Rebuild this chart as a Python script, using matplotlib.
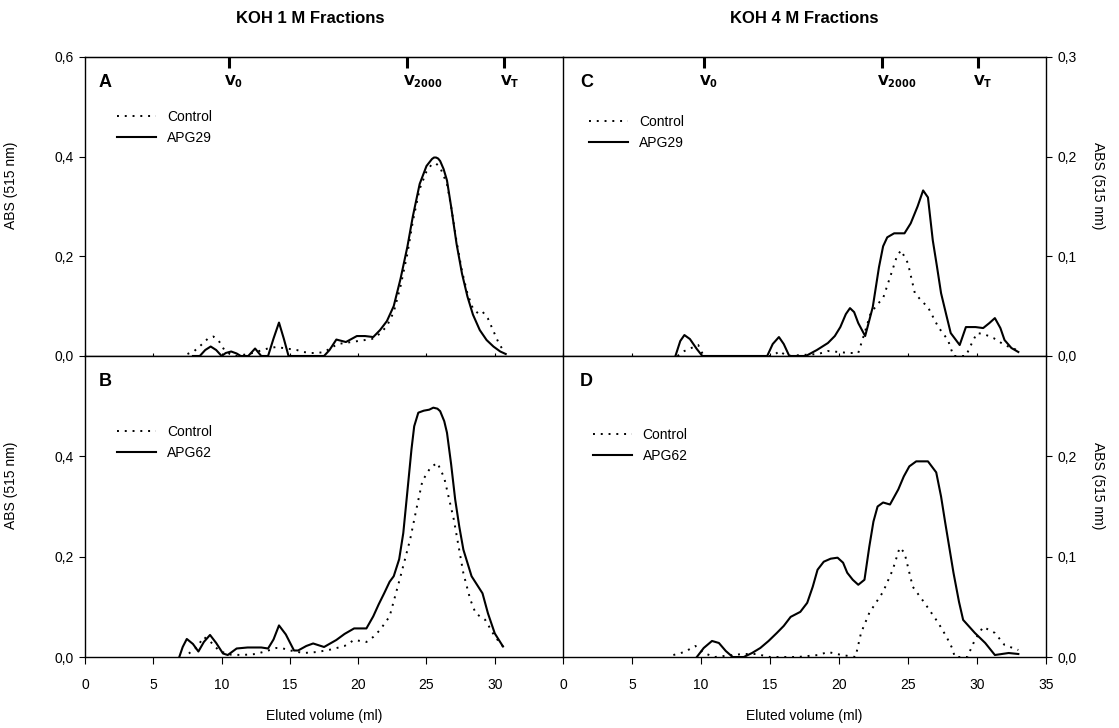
import numpy as np
import matplotlib
matplotlib.use("Agg")
import matplotlib.pyplot as plt
from matplotlib.ticker import FuncFormatter
from matplotlib.transforms import blended_transform_factory

plt.rcParams['font.family'] = ['Liberation Sans', 'DejaVu Sans']

# Panel A - KOH 1 M, APG29
A_apg_x = [7.9, 8.4, 8.8, 9.2, 9.6, 10.0, 10.3, 10.7, 11.1, 11.4, 11.95, 12.45, 12.9, 13.4, 13.8,
           14.2, 14.55, 14.9, 17.5, 17.9, 18.4, 19.1, 19.5, 19.9, 20.5, 21.1, 21.6, 22.1, 22.6, 23.1,
           23.6, 24.0, 24.5, 25.0, 25.4, 25.55, 25.7, 25.85, 26.0, 26.25, 26.5, 26.8, 27.2, 27.6, 28.0,
           28.4, 28.9, 29.4, 29.9, 30.4, 30.8]
A_apg_y = [0.0, 0.0, 0.012, 0.019, 0.012, 0.0, 0.006, 0.009, 0.005, 0.0, 0.0, 0.015, 0.0, 0.0, 0.035,
           0.067, 0.035, 0.0, 0.0, 0.012, 0.033, 0.028, 0.034, 0.040, 0.040, 0.038, 0.052, 0.070, 0.100, 0.155,
           0.219, 0.280, 0.345, 0.381, 0.395, 0.398, 0.398, 0.396, 0.391, 0.375, 0.352, 0.300, 0.225, 0.165,
           0.119, 0.083, 0.052, 0.032, 0.019, 0.009, 0.004]
A_ctl_x = [7.5, 8.0, 8.5, 9.0, 9.4, 9.8, 10.2, 10.6, 11.0, 12.0, 12.5, 13.0, 13.5, 14.0, 14.5, 15.0,
           15.5, 16.0, 16.5, 17.0, 17.5, 18.0, 18.5, 19.0, 19.5, 20.0, 20.5, 21.0, 21.6, 22.1, 22.6,
           23.1, 23.6, 24.0, 24.5, 25.0, 25.4, 25.7, 26.0, 26.5, 26.8, 27.2, 27.6, 28.0, 28.4, 28.8,
           29.1, 29.5, 29.9, 30.3, 30.7]
A_ctl_y = [0.004, 0.010, 0.022, 0.035, 0.039, 0.030, 0.012, 0.004, 0.0, 0.004, 0.008, 0.012, 0.016, 0.018,
           0.016, 0.014, 0.012, 0.008, 0.006, 0.006, 0.008, 0.016, 0.024, 0.026, 0.028, 0.030, 0.032, 0.034,
           0.045, 0.060, 0.088, 0.140, 0.205, 0.270, 0.335, 0.370, 0.385, 0.386, 0.378, 0.345, 0.300, 0.230,
           0.170, 0.125, 0.095, 0.085, 0.089, 0.075, 0.050, 0.025, 0.008]

# Panel B - KOH 1 M, APG62
B_apg_x = [6.9, 7.15, 7.45, 7.9, 8.3, 8.7, 9.15, 9.6, 10.1, 10.45, 11.1, 11.9, 12.9, 13.4, 13.8, 14.2,
           14.7, 15.3, 15.6, 16.2, 16.7, 17.5, 18.4, 19.0, 19.7, 20.6, 21.1, 21.5, 21.9, 22.3, 22.6, 23.0,
           23.3, 23.6, 23.9, 24.1, 24.4, 24.8, 25.2, 25.5, 25.8, 26.0, 26.3, 26.5, 26.8, 27.1, 27.4, 27.7,
           28.3, 29.1, 29.5, 30.0, 30.6]
B_apg_y = [0.0, 0.020, 0.036, 0.026, 0.011, 0.030, 0.044, 0.028, 0.007, 0.004, 0.017, 0.019, 0.019, 0.017,
           0.035, 0.063, 0.045, 0.013, 0.013, 0.022, 0.027, 0.020, 0.034, 0.046, 0.057, 0.057, 0.081, 0.105,
           0.127, 0.150, 0.161, 0.195, 0.247, 0.330, 0.414, 0.460, 0.487, 0.491, 0.493, 0.497, 0.495, 0.490,
           0.470, 0.447, 0.385, 0.314, 0.260, 0.214, 0.161, 0.127, 0.087, 0.047, 0.021]
B_ctl_x = [7.6, 8.2, 8.7, 9.2, 9.8, 10.5, 11.5, 12.5, 13.3, 14.0, 14.5, 15.2, 16.0, 17.0, 18.0, 19.0,
           19.7, 20.6, 21.1, 21.6, 22.3, 23.1, 23.8, 24.3, 24.7, 25.3, 25.8, 26.3, 27.0, 27.7, 28.2, 28.6,
           29.3, 30.0, 30.6]
B_ctl_y = [0.007, 0.020, 0.040, 0.030, 0.013, 0.005, 0.004, 0.006, 0.012, 0.018, 0.017, 0.012, 0.008,
           0.010, 0.015, 0.022, 0.034, 0.030, 0.040, 0.054, 0.081, 0.161, 0.234, 0.300, 0.351, 0.378, 0.387,
           0.357, 0.274, 0.167, 0.115, 0.087, 0.074, 0.041, 0.021]

# Panel C - KOH 4 M, APG29
C_apg_x = [8.15, 8.5, 8.8, 9.2, 9.7, 10.1, 14.8, 15.2, 15.65, 16.0, 16.4, 17.6, 18.4, 19.2, 19.7, 20.1,
           20.5, 20.8, 21.1, 21.4, 21.9, 22.45, 22.9, 23.2, 23.5, 24.0, 24.75, 25.2, 25.7, 26.1, 26.45,
           26.8, 27.1, 27.4, 27.8, 28.1, 28.75, 29.2, 29.9, 30.45, 30.9, 31.3, 31.7, 32.0, 32.5, 33.0]
C_apg_y = [0.0, 0.015, 0.021, 0.017, 0.007, 0.0, 0.0, 0.012, 0.019, 0.012, 0.0, 0.0, 0.006, 0.013, 0.020,
           0.029, 0.042, 0.048, 0.044, 0.033, 0.020, 0.049, 0.089, 0.110, 0.119, 0.123, 0.123, 0.133, 0.150,
           0.166, 0.159, 0.116, 0.090, 0.063, 0.040, 0.023, 0.011, 0.029, 0.029, 0.028, 0.033, 0.038, 0.028,
           0.016, 0.008, 0.004]
C_ctl_x = [8.3, 8.8, 9.3, 9.8, 10.2, 15.2, 15.7, 16.2, 18.5, 19.2, 20.0, 20.7, 21.4, 21.9, 22.3, 22.8,
           23.2, 23.8, 24.2, 24.5, 25.0, 25.5, 26.0, 26.45, 27.2, 27.9, 28.3, 29.2, 29.6, 30.0, 30.5, 31.2,
           32.0, 32.9]
C_ctl_y = [0.0, 0.005, 0.008, 0.011, 0.0, 0.0, 0.005, 0.0, 0.002, 0.005, 0.004, 0.003, 0.003, 0.025,
           0.043, 0.052, 0.058, 0.083, 0.100, 0.106, 0.093, 0.063, 0.055, 0.049, 0.029, 0.016, 0.0, 0.0,
           0.012, 0.023, 0.022, 0.018, 0.011, 0.006]

# Panel D - KOH 4 M, APG62
D_apg_x = [9.7, 10.2, 10.8, 11.3, 11.8, 12.3, 13.1, 13.7, 14.3, 14.9, 15.5, 16.0, 16.5, 17.2, 17.7,
           18.1, 18.45, 18.9, 19.4, 19.9, 20.3, 20.6, 21.0, 21.4, 21.85, 22.2, 22.5, 22.8, 23.2, 23.7,
           24.3, 24.7, 25.1, 25.6, 26.0, 26.45, 27.05, 27.4, 27.7, 28.3, 28.7, 29.0, 29.85, 30.6, 31.3,
           31.8, 32.3, 33.0]
D_apg_y = [0.0, 0.009, 0.016, 0.014, 0.006, 0.0, 0.0, 0.004, 0.009, 0.016, 0.024, 0.031, 0.040, 0.045,
           0.054, 0.070, 0.087, 0.095, 0.098, 0.099, 0.094, 0.084, 0.077, 0.072, 0.077, 0.110, 0.135, 0.150,
           0.154, 0.152, 0.167, 0.180, 0.190, 0.195, 0.195, 0.195, 0.184, 0.160, 0.134, 0.084, 0.055, 0.037,
           0.024, 0.014, 0.002, 0.003, 0.004, 0.003]
D_ctl_x = [8.0, 8.8, 9.6, 10.2, 11.0, 13.0, 14.0, 15.0, 17.0, 18.5, 19.2, 20.2, 21.2, 21.6, 22.2, 23.2,
           23.9, 24.4, 24.75, 25.35, 26.2, 27.2, 27.8, 28.2, 28.4, 29.3, 29.85, 30.45, 31.3, 32.0, 33.0]
D_ctl_y = [0.002, 0.005, 0.011, 0.004, 0.0, 0.003, 0.003, 0.0, 0.0, 0.002, 0.005, 0.002, 0.0, 0.024,
           0.044, 0.065, 0.087, 0.109, 0.104, 0.070, 0.054, 0.034, 0.020, 0.009, 0.0, 0.0, 0.017, 0.030,
           0.024, 0.012, 0.007]

# column markers (V0, V2000, VT)
marker_labels = [r'$\mathbf{V_0}$', r'$\mathbf{V_{2000}}$', r'$\mathbf{V_T}$']
markers_1M = [10.55, 23.6, 30.7]
markers_4M = [10.2, 23.1, 30.1]

comma = FuncFormatter(lambda v, pos: f"{v:.1f}".replace('.', ','))

fig = plt.figure(figsize=(11.19, 7.28), dpi=100)
axA = fig.add_axes([0.0760, 0.511, 0.4272, 0.411])
axB = fig.add_axes([0.0760, 0.0975, 0.4272, 0.4135])
axC = fig.add_axes([0.5031, 0.511, 0.4316, 0.411])
axD = fig.add_axes([0.5031, 0.0975, 0.4316, 0.4135])


def draw_panel(ax, letter, ctl_x, ctl_y, apg_x, apg_y, apg_name, ymax, yticks, right, top, marks, leg_pos):
    ax.plot(ctl_x, ctl_y, color='black', lw=1.4, linestyle=(0, (1, 3)), label='Control')
    ax.plot(apg_x, apg_y, color='black', lw=1.5, label=apg_name)
    ax.set_xlim(0, 35)
    ax.set_ylim(0, ymax)
    for s in ax.spines.values():
        s.set_linewidth(1.0)
    ax.spines['right'].set_visible(right)
    ax.set_yticks(yticks)
    ax.yaxis.set_major_formatter(comma)
    if right:
        ax.yaxis.tick_right()
    ax.tick_params(axis='y', direction='out', length=4, labelsize=10, pad=4)
    ax.set_ylabel('ABS (515 nm)', fontsize=10, rotation=270 if right else 90)
    if right:
        ax.yaxis.set_label_position('right')

    if top:
        ax.set_xticks(marks)
        ax.tick_params(axis='x', which='major', direction='out', length=8, width=2.2, labelbottom=False)
        ax.set_xticks(np.arange(0, 36, 5), minor=True)
        ax.tick_params(axis='x', which='minor', direction='in', length=2.5, width=0.8)
        sec = ax.secondary_xaxis('top')
        sec.set_xticks(marks)
        sec.tick_params(direction='in', length=8, width=2.2, labeltop=False)
        trans = blended_transform_factory(ax.transData, ax.transAxes)
        for xv, lab in zip(marks, marker_labels):
            ax.text(xv - 0.35, 0.915, lab, transform=trans, ha='left', va='center', fontsize=10)
    else:
        ax.set_xticks(np.arange(0, 36 if right else 31, 5))
        ax.tick_params(axis='x', direction='out', length=5, labelsize=10, pad=10)
        ax.set_xlabel('Eluted volume (ml)', fontsize=10, labelpad=12)

    ax.text(0.028 if not right else 0.035, 0.915, letter, transform=ax.transAxes, fontsize=13,
            fontweight='bold', ha='left', va='center')
    ax.legend(loc='upper left', bbox_to_anchor=leg_pos, frameon=False,
              handlelength=2.8, handletextpad=0.8, labelspacing=0.5, borderaxespad=0,
              prop={'size': 10})


draw_panel(axA, 'A', A_ctl_x, A_ctl_y, A_apg_x, A_apg_y, 'APG29', 0.6, [0, 0.2, 0.4, 0.6],
           False, True, markers_1M, (0.055, 0.84))
draw_panel(axB, 'B', B_ctl_x, B_ctl_y, B_apg_x, B_apg_y, 'APG62', 0.6, [0, 0.2, 0.4],
           False, False, markers_1M, (0.055, 0.79))
draw_panel(axC, 'C', C_ctl_x, C_ctl_y, C_apg_x, C_apg_y, 'APG29', 0.3, [0, 0.1, 0.2, 0.3],
           True, True, markers_4M, (0.042, 0.825))
draw_panel(axD, 'D', D_ctl_x, D_ctl_y, D_apg_x, D_apg_y, 'APG62', 0.3, [0, 0.1, 0.2],
           True, False, markers_4M, (0.05, 0.78))

for ax in (axA, axB):
    ax.yaxis.set_label_coords(-0.14, 0.57)
for ax in (axC, axD):
    ax.yaxis.set_label_coords(1.122, 0.57)

fig.text(0.277, 0.975, 'KOH 1 M Fractions', ha='center', va='center', fontsize=12, fontweight='bold')
fig.text(0.719, 0.975, 'KOH 4 M Fractions', ha='center', va='center', fontsize=12, fontweight='bold')

fig.savefig('out.png', dpi=100)
